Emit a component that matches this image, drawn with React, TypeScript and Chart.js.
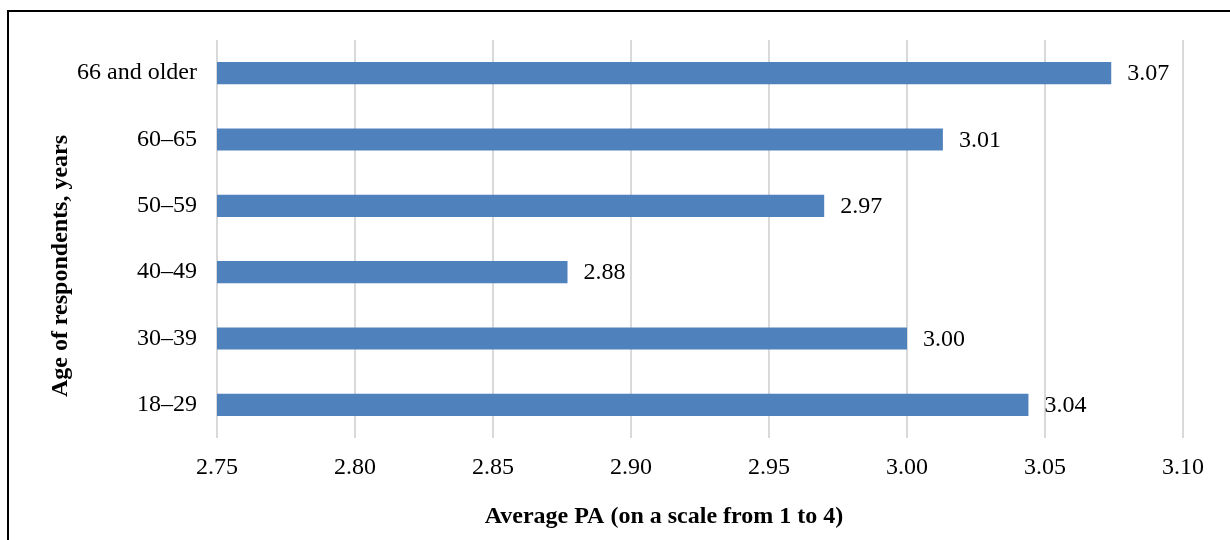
import React, { useEffect, useRef } from "react";
import { Chart, registerables } from "chart.js";

Chart.register(...registerables);

const categories = ["66 and older", "60–65", "50–59", "40–49", "30–39", "18–29"];
const values = [3.074, 3.013, 2.97, 2.877, 3.0, 3.044];
const xTitle = "Average PA (on a scale from 1 to 4)";
const yTitle = "Age of respondents, years";
const xMin = 2.75;
const xMax = 3.1;
const xStep = 0.05;

const FONT = "'Liberation Serif', 'Times New Roman', serif";

const valueLabels = {
  id: "valueLabels",
  afterDatasetsDraw(chart: any) {
    const ctx = chart.ctx;
    const meta = chart.getDatasetMeta(0);
    ctx.save();
    ctx.font = `24px ${FONT}`;
    ctx.fillStyle = "#000";
    ctx.textAlign = "left";
    ctx.textBaseline = "middle";
    meta.data.forEach((bar: any, i: number) => {
      const v = chart.data.datasets[0].data[i] as number;
      ctx.fillText(v.toFixed(2), bar.x + 16, bar.y + 1);
    });
    ctx.restore();
  },
};

const axisTitles = {
  id: "axisTitles",
  afterDraw(chart: any) {
    const ctx = chart.ctx;
    ctx.save();
    ctx.font = `bold 24px ${FONT}`;
    ctx.fillStyle = "#000";
    ctx.textAlign = "center";
    ctx.textBaseline = "middle";
    ctx.fillText(xTitle, 664, 517);
    ctx.translate(61, 266);
    ctx.rotate(-Math.PI / 2);
    ctx.fillText(yTitle, 0, 0);
    ctx.restore();
  },
};

export default function App() {
  const ref = useRef<HTMLCanvasElement>(null);
  useEffect(() => {
    if (!ref.current) return;
    const chart = new Chart(ref.current, {
      type: "bar",
      data: {
        labels: categories,
        datasets: [
          {
            data: values,
            backgroundColor: "#4F81BD",
            borderWidth: 0,
            barPercentage: 0.335,
            categoryPercentage: 1,
          },
        ],
      },
      options: {
        indexAxis: "y",
        responsive: false,
        animation: false,
        events: [],
        layout: { padding: { top: 40, right: 47, bottom: 0, left: 0 } },
        plugins: { legend: { display: false }, tooltip: { enabled: false } },
        scales: {
          x: {
            min: xMin,
            max: xMax,
            afterFit(scale: any) {
              scale.height = 102;
            },
            ticks: {
              stepSize: xStep,
              padding: 15,
              color: "#000",
              font: { family: FONT, size: 24 },
              callback: (v: any) => Number(v).toFixed(2),
            },
            grid: { color: "#d9d9d9", lineWidth: 2, drawTicks: false },
            border: { display: false },
          },
          y: {
            afterFit(scale: any) {
              scale.width = 217;
            },
            ticks: {
              padding: 20,
              color: "#000",
              font: { family: FONT, size: 24 },
            },
            grid: { display: false, drawTicks: false },
            border: { display: false },
          },
        },
      },
      plugins: [valueLabels, axisTitles],
    });
    return () => chart.destroy();
  }, []);

  return (
    <div style={{ position: "fixed", left: 0, top: 0, width: 1230, height: 540, overflow: "hidden", background: "#fff" }}>
      <canvas ref={ref} width={1230} height={540} style={{ position: "absolute", left: 0, top: 0, width: 1230, height: 540 }} />
      <div
        style={{
          position: "absolute",
          left: 7,
          top: 10,
          width: 1400,
          height: 700,
          border: "2px solid #000",
          pointerEvents: "none",
        }}
      />
    </div>
  );
}
